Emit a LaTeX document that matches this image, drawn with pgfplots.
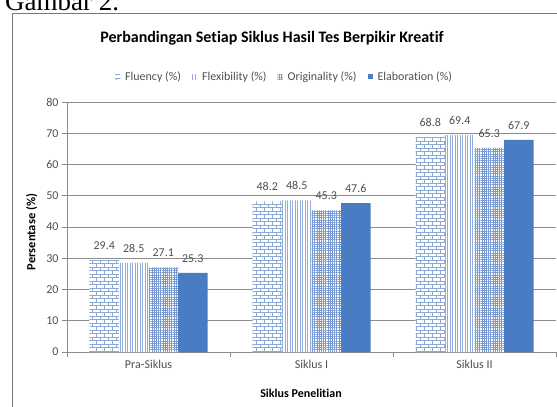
\documentclass[border=0pt]{standalone}
\usepackage{fontspec}
\setmainfont{Carlito}[Ligatures=NoCommon]
\newfontfamily\timesfont{Liberation Serif}
\usepackage{pgfplots}
\pgfplotsset{compat=1.18}
\usetikzlibrary{patterns,patterns.meta}
\definecolor{barblue}{RGB}{74,124,196}
\definecolor{flucol}{RGB}{140,168,215}
\definecolor{flexcol}{RGB}{145,172,218}
\definecolor{origcol}{RGB}{120,152,208}
\definecolor{gridgray}{RGB}{140,140,140}
\definecolor{framegray}{RGB}{120,120,120}
\definecolor{textgray}{RGB}{80,80,80}
\pgfdeclarepatternformonly{mybricks}{\pgfqpoint{-1pt}{-1pt}}{\pgfqpoint{9pt}{8pt}}{\pgfqpoint{8pt}{7pt}}{
  \pgfsetlinewidth{0.5pt}
  \pgfpathmoveto{\pgfqpoint{0pt}{0pt}}\pgfpathlineto{\pgfqpoint{8pt}{0pt}}
  \pgfpathmoveto{\pgfqpoint{0pt}{3.5pt}}\pgfpathlineto{\pgfqpoint{8pt}{3.5pt}}
  \pgfpathmoveto{\pgfqpoint{0pt}{0pt}}\pgfpathlineto{\pgfqpoint{0pt}{3.5pt}}
  \pgfpathmoveto{\pgfqpoint{4pt}{3.5pt}}\pgfpathlineto{\pgfqpoint{4pt}{7pt}}
  \pgfusepath{stroke}}
\pgfplotsset{/pgf/number format/assume math mode=true}
\begin{document}
\begin{tikzpicture}
\useasboundingbox (0pt,0pt) rectangle (557pt,407pt);
\fill[white] (0pt,0pt) rectangle (557pt,407pt);
\node[anchor=base west, inner sep=0pt, font=\timesfont\fontsize{27}{30}\selectfont] at (5pt,396pt) {Gambar 2.};
\draw[framegray, line width=0.8pt] (12.7pt,-5pt) -- (12.7pt,394pt) -- (570pt,394pt);
\node[anchor=base, inner sep=0pt, font=\bfseries\fontsize{16}{19}\selectfont] at (272pt,364pt) {Perbandingan Setiap Siklus Hasil Tes Berpikir Kreatif};
\begin{axis}[
  at={(67pt,55pt)}, anchor=south west,
  scale only axis, width=489pt, height=250pt,
  ybar=0pt, bar width=29.5pt,
  xmin=-0.5, xmax=2.5, ymin=0, ymax=80,
  ytick={0,10,...,80},
  xtick={-0.5,0.5,1.5,2.5},
  xticklabels={Pra-Siklus,Siklus I,Siklus II,},
  x tick label as interval,
  axis x line*=bottom, axis y line*=left,
  axis line style={draw=gridgray, -},
  ymajorgrids, grid style={draw=gridgray, line width=0.6pt},
  tick align=outside, major tick length=5pt,
  tick style={draw=gridgray, line width=0.6pt},
  ticklabel style={font=\fontsize{12}{14}\selectfont, text=textgray},
  xlabel={Siklus Penelitian},
  ylabel={Persentase (\%)},
  xlabel style={font=\bfseries\fontsize{12}{14}\selectfont, at={(axis description cs:0.4785,-0.164)}, anchor=center},
  ylabel style={font=\bfseries\fontsize{12.5}{15}\selectfont, at={(axis description cs:-0.072,0.48)}, anchor=center},
  nodes near coords={\pgfmathprintnumber[fixed,precision=1,fixed zerofill]{\pgfplotspointmeta}},
  nodes near coords style={font=\fontsize{12}{14}\selectfont, text=textgray, yshift=7pt},
  legend style={at={(axis description cs:0.445,1.101)}, anchor=center, draw=none, fill=none,
    font=\fontsize{12}{14}\selectfont, text=textgray,
    /tikz/every even column/.append style={column sep=9pt},
    /tikz/every odd column/.append style={column sep=3pt}},
  legend columns=4,
  legend image code/.code={\path[#1] (0pt,-2.5pt) rectangle (5pt,2.5pt);},
]
\addplot[fill=white, draw=none, postaction={pattern=mybricks, pattern color=flucol}]
  coordinates {(0,29.4) (1,48.2) (2,68.8)};
\addplot[fill=white, draw=none, postaction={pattern={Lines[angle=90,distance=2.5pt,line width=0.9pt]}, pattern color=flexcol}]
  coordinates {(0,28.5) (1,48.5) (2,69.4)};
\addplot[fill=white, draw=none, postaction={pattern={Hatch[angle=0,distance=2.2pt,line width=0.6pt]}, pattern color=origcol}]
  coordinates {(0,27.1) (1,45.3) (2,65.3)};
\addplot[fill=barblue, draw=none]
  coordinates {(0,25.3) (1,47.6) (2,67.9)};
\legend{Fluency (\%),Flexibility (\%),Originality (\%),Elaboration (\%)}
\end{axis}
\end{tikzpicture}
\end{document}
